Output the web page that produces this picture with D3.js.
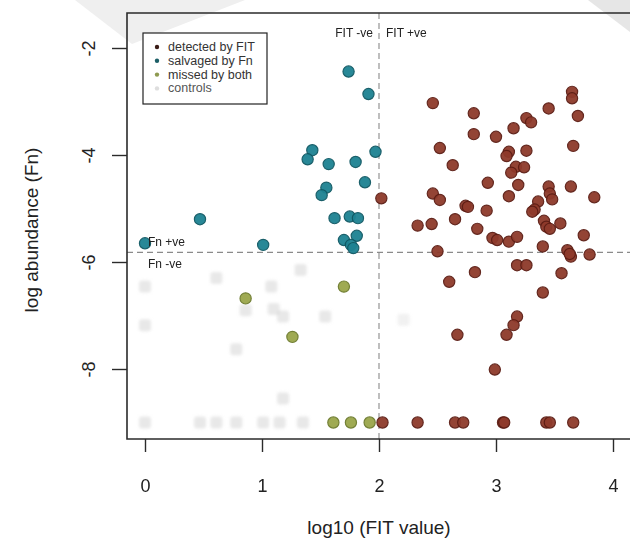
<!DOCTYPE html>
<html>
<head>
<meta charset="utf-8">
<script src="https://cdn.jsdelivr.net/npm/d3@7"></script>
<style>
  html, body { margin: 0; padding: 0; background: #fff; }
  svg { display: block; }
  text { font-family: "Liberation Sans", Arial, Helvetica, sans-serif; }
</style>
</head>
<body>
<svg id="chart" width="630" height="550"></svg>
<script>
// ---- data (log10 FIT value, log abundance Fn) ----
const detectedX = [2.02,2.46,2.81,3.65,3.65,3.45,3.70,3.26,3.30,3.15,2.81,3.00,3.66,2.52,3.11,3.26,3.09,2.63,3.17,3.24,3.13,2.93,3.19,3.45,3.64,3.46,2.46,2.52,3.11,3.48,3.84,3.36,2.74,2.76,3.33,2.92,3.31,2.65,2.33,2.45,3.41,3.43,3.46,3.55,2.84,3.75,2.97,3.01,3.11,3.18,3.40,3.61,3.64,3.63,3.80,2.50,3.18,3.26,2.82,2.60,3.56,3.40,3.18,3.15,3.09,2.67,2.99,2.03,2.33,2.65,2.72,3.06,3.07,3.43,3.46,3.66];
const detectedY = [-4.81,-3.03,-3.22,-2.82,-2.94,-3.13,-3.27,-3.31,-3.39,-3.50,-3.61,-3.66,-3.83,-3.87,-3.94,-3.92,-4.02,-4.19,-4.22,-4.23,-4.33,-4.52,-4.56,-4.59,-4.59,-4.72,-4.72,-4.84,-4.77,-4.83,-4.79,-4.87,-4.95,-4.97,-5.02,-5.04,-5.06,-5.20,-5.32,-5.29,-5.23,-5.34,-5.38,-5.28,-5.38,-5.50,-5.55,-5.59,-5.62,-5.53,-5.71,-5.78,-5.90,-5.85,-5.86,-5.80,-6.06,-6.06,-6.19,-6.37,-6.21,-6.57,-7.02,-7.18,-7.36,-7.36,-8.01,-9,-9,-9,-9,-9,-9,-9,-9,-9];

const salvagedX = [1.74,1.91,1.43,1.39,1.57,1.80,1.97,1.88,1.55,1.51,0.47,1.62,1.75,1.82,1.81,1.70,1.76,1.78,0.00,1.01];
const salvagedY = [-2.44,-2.86,-3.91,-4.08,-4.17,-4.13,-3.94,-4.51,-4.61,-4.75,-5.20,-5.18,-5.15,-5.18,-5.51,-5.59,-5.68,-5.74,-5.65,-5.68];

const missedX = [0.86,1.70,1.26,1.61,1.76,1.92];
const missedY = [-6.68,-6.46,-7.40,-9,-9,-9];

const controlsX = [0.00,0.61,1.33,1.08,0.86,1.10,1.18,1.54,0.00,0.78,1.18,2.21,0.00,0.47,0.61,0.78,1.01,1.15,1.35];
const controlsY = [-6.46,-6.30,-6.15,-6.46,-6.90,-6.88,-7.02,-7.02,-7.18,-7.63,-8.55,-7.08,-9,-9,-9,-9,-9,-9,-9];

const xTicks = [0, 1, 2, 3, 4];
const yTicks = [-2, -4, -6, -8];
const fitCut = 2;
const fnCut = -5.82;

const legendLabels = ["detected by FIT", "salvaged by Fn", "missed by both", "controls"];

// ---- layout ----
const svg = d3.select("#chart");
const box = { left: 127, top: 13, right: 660, bottom: 439 };
const x = d3.scaleLinear().domain([0, 4]).range([145, 613]);
const y = d3.scaleLinear().domain([-2, -8]).range([48, 369]);

// scan artifacts (light grey page edges)
svg.append("polygon").attr("points", "75,0 245,0 132,44").attr("fill", "#efefef");
svg.append("polygon").attr("points", "588,0 630,0 630,32").attr("fill", "#e6e6e6");

const defs = svg.append("defs");
defs.append("filter").attr("id", "blur").append("feGaussianBlur").attr("stdDeviation", 1.8);
defs.append("clipPath").attr("id", "clip").append("rect")
  .attr("x", box.left).attr("y", box.top).attr("width", 630 - box.left).attr("height", box.bottom - box.top);

const plot = svg.append("g").attr("clip-path", "url(#clip)");

// dashed cut lines
plot.append("line")
  .attr("x1", x(fitCut)).attr("x2", x(fitCut)).attr("y1", box.top).attr("y2", box.bottom)
  .attr("stroke", "#8a8a8a").attr("stroke-width", 1.1).attr("stroke-dasharray", "6,4");
plot.append("line")
  .attr("x1", box.left).attr("x2", 640).attr("y1", y(fnCut)).attr("y2", y(fnCut))
  .attr("stroke", "#8a8a8a").attr("stroke-width", 1.1).attr("stroke-dasharray", "6,4");

// controls (faint grey blobs)
plot.append("g").attr("filter", "url(#blur)")
  .selectAll("rect").data(controlsX.map((d, i) => [d, controlsY[i]])).join("rect")
  .attr("x", d => x(d[0]) - 6).attr("y", d => y(d[1]) - 6)
  .attr("width", 12).attr("height", 12).attr("rx", 3)
  .attr("fill", "#d2d2d2").attr("opacity", (d, i) => i === 11 ? 0.3 : 0.5);

// annotation texts
const ann = svg.append("g").attr("font-size", 12).attr("fill", "#222");
ann.append("text").attr("x", x(fitCut) - 6).attr("y", 37).attr("text-anchor", "end").text("FIT -ve");
ann.append("text").attr("x", x(fitCut) + 7).attr("y", 37).text("FIT +ve");
ann.append("text").attr("x", 148).attr("y", y(fnCut) - 6).text("Fn +ve");
ann.append("text").attr("x", 148).attr("y", y(fnCut) + 16).text("Fn -ve");

function dots(xs, ys, fill, stroke) {
  plot.append("g").selectAll("circle").data(xs.map((d, i) => [d, ys[i]])).join("circle")
    .attr("cx", d => x(d[0])).attr("cy", d => y(d[1])).attr("r", 5.6)
    .attr("fill", fill).attr("stroke", stroke).attr("stroke-width", 1.2).attr("opacity", 0.95);
}
dots(missedX, missedY, "#9aa64a", "#6c7a2c");
dots(salvagedX, salvagedY, "#1d8292", "#0f5863");
dots(detectedX, detectedY, "#8e3a2b", "#5c1d14");

// plot box
svg.append("path")
  .attr("d", `M${630 + 5},${box.top}H${box.left}V${box.bottom}H${630 + 5}`)
  .attr("fill", "none").attr("stroke", "#2b2b2b").attr("stroke-width", 1.6);

// axes
const xAxis = svg.append("g").attr("transform", `translate(0,${box.bottom})`)
  .call(d3.axisBottom(x).tickValues(xTicks).tickFormat(d => String(d)).tickSize(13).tickPadding(27));
xAxis.select(".domain").remove();
xAxis.selectAll("line").attr("stroke", "#2b2b2b").attr("stroke-width", 1.4);
xAxis.selectAll("text").attr("font-size", 18).attr("fill", "#222");

const yAxis = svg.append("g").attr("transform", `translate(${box.left},0)`)
  .call(d3.axisLeft(y).tickValues(yTicks).tickFormat(d => String(d)).tickSize(15).tickPadding(0));
yAxis.select(".domain").remove();
yAxis.selectAll("line").attr("stroke", "#2b2b2b").attr("stroke-width", 1.4);
yAxis.selectAll("text")
  .attr("font-size", 18).attr("fill", "#222")
  .attr("text-anchor", "middle").attr("dy", null).attr("x", null)
  .attr("transform", "translate(-38,0) rotate(-90)")
  .attr("dominant-baseline", "central");

// axis titles
svg.append("text").attr("x", x(2)).attr("y", 527).attr("text-anchor", "middle")
  .attr("dominant-baseline", "central")
  .attr("font-size", 19).attr("fill", "#222").text("log10 (FIT value)");
svg.append("text").attr("transform", `translate(31,${230}) rotate(-90)`).attr("text-anchor", "middle")
  .attr("dominant-baseline", "central")
  .attr("font-size", 19).attr("fill", "#222").text("log abundance (Fn)");

// legend
const lg = svg.append("g");
lg.append("rect").attr("x", 143).attr("y", 33).attr("width", 124).attr("height", 71)
  .attr("fill", "#fff").attr("stroke", "#222").attr("stroke-width", 1.2);
const legendColors = ["#3a1c16", "#1c5e66", "#8e9a50", "#dedede"];
legendLabels.forEach((lab, i) => {
  const yy = 47 + i * 13.8;
  lg.append("circle").attr("cx", 157).attr("cy", yy).attr("r", 2.2).attr("fill", legendColors[i]);
  lg.append("text").attr("x", 168).attr("y", yy).attr("dominant-baseline", "central")
    .attr("font-size", 12.5).attr("fill", i === 3 ? "#555" : "#333").text(lab);
});
</script>
</body>
</html>
